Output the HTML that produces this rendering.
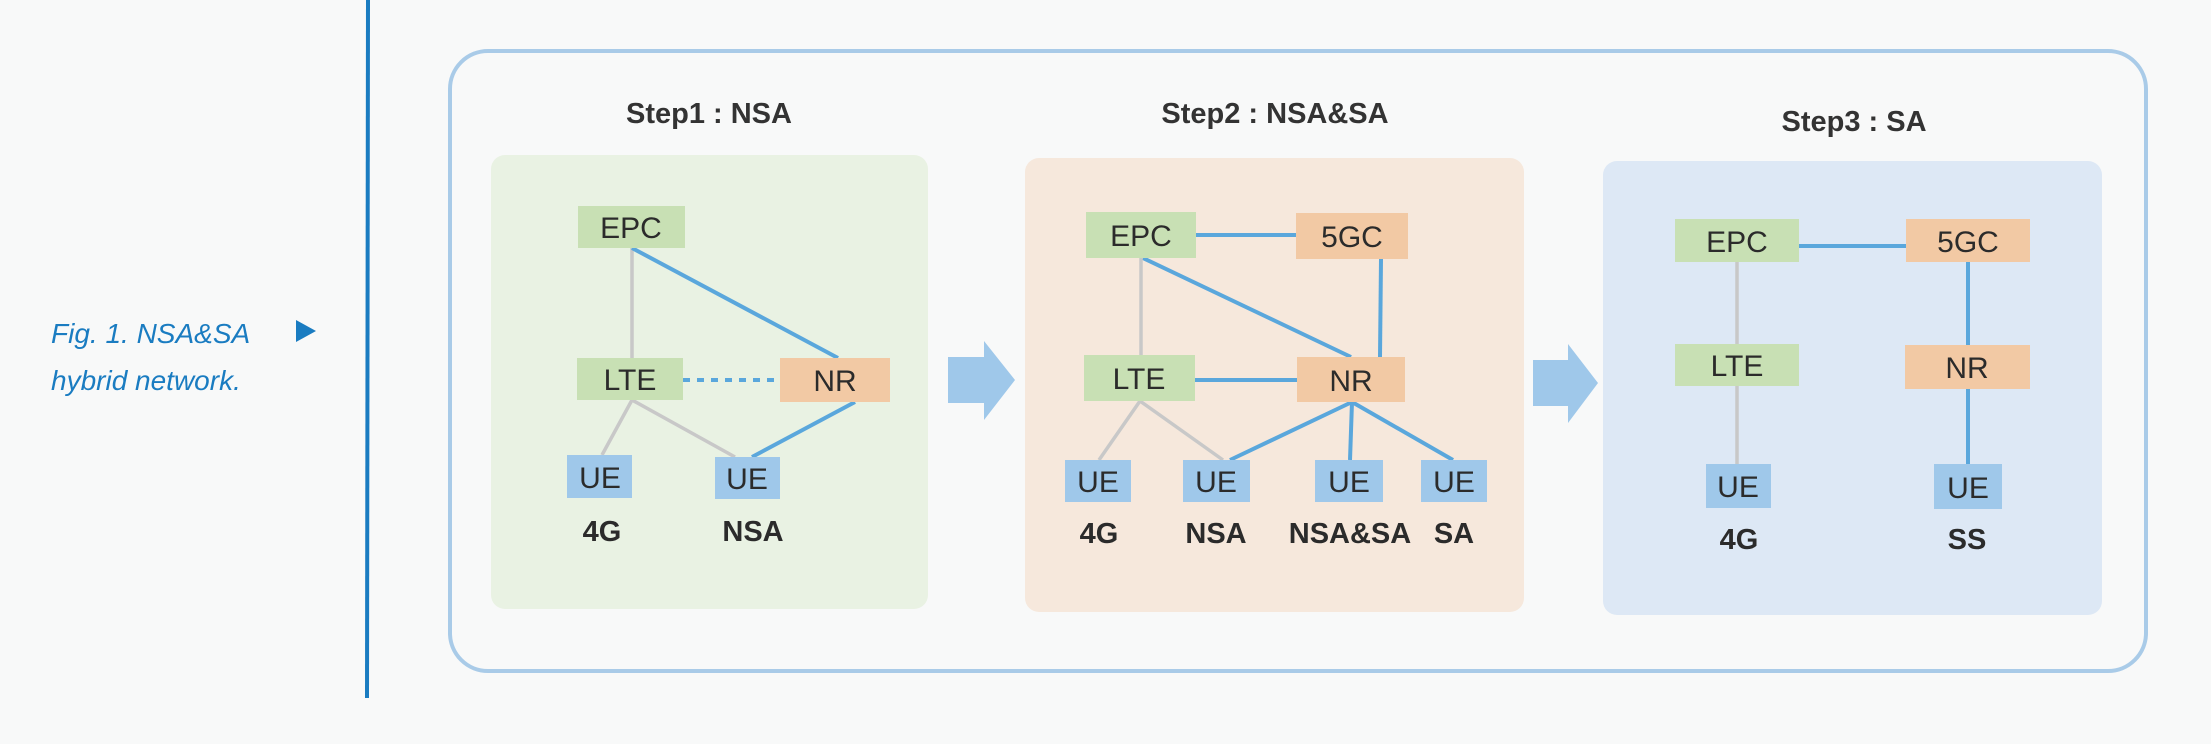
<!DOCTYPE html>
<html><head><meta charset="utf-8"><style>
html,body{margin:0;padding:0;background:#f8f9f9;}
svg{display:block}
.n{font-family:"Liberation Sans",sans-serif;font-size:30px;fill:#2b2b2b;text-anchor:middle;}
.l{font-family:"Liberation Sans",sans-serif;font-size:29px;font-weight:bold;fill:#2b2b2b;text-anchor:middle;}
.t{font-family:"Liberation Sans",sans-serif;font-size:29px;font-weight:bold;fill:#333;text-anchor:middle;}
.b{stroke:#5aa7dc;stroke-width:4;fill:none}
.g{stroke:#c8c8c8;stroke-width:3.5;fill:none}
</style></head><body>
<svg width="2211" height="744" viewBox="0 0 2211 744" xmlns="http://www.w3.org/2000/svg">
<rect width="2211" height="744" fill="#f8f9f9"/>
<line x1="368" y1="0" x2="367" y2="698" stroke="#1a7cc1" stroke-width="4"/>
<text x="51" y="343" font-family="Liberation Sans,sans-serif" font-style="italic" font-size="28" fill="#1a7cc1">Fig. 1. NSA&amp;SA</text>
<text x="51" y="390" font-family="Liberation Sans,sans-serif" font-style="italic" font-size="28" fill="#1a7cc1">hybrid network.</text>
<polygon points="296,320 316,331 296,342" fill="#1a7cc1"/>
<rect x="450" y="51" width="1696" height="620" rx="38" fill="none" stroke="#a9cbe8" stroke-width="4"/>
<text class="t" x="709" y="123">Step1 : NSA</text>
<text class="t" x="1275" y="123">Step2 : NSA&amp;SA</text>
<text class="t" x="1854" y="131">Step3 : SA</text>
<rect x="491" y="155" width="437" height="454" rx="14" fill="#e9f2e3"/>
<rect x="1025" y="158" width="499" height="454" rx="14" fill="#f6e8dc"/>
<rect x="1603" y="161" width="499" height="454" rx="14" fill="#dde8f5"/>
<polygon points="948,357 984,357 984,341 1015,380 984,420 984,403 948,403" fill="#9fc8ea"/>
<polygon points="1533,360 1568,360 1568,344 1598,383 1568,423 1568,406 1533,406" fill="#9fc8ea"/>
<!-- panel1 lines -->
<line class="g" x1="632" y1="248" x2="632" y2="358"/>
<line class="b" x1="632" y1="248" x2="838" y2="358"/>
<line class="b" x1="683" y1="380" x2="780" y2="380" stroke-dasharray="7,7"/>
<line class="g" x1="632" y1="400" x2="602" y2="455"/>
<line class="g" x1="632" y1="400" x2="735" y2="457"/>
<line class="b" x1="855" y1="402" x2="752" y2="457"/>
<rect x="578" y="206" width="107" height="42" fill="#c8e0b4"/><text class="n" x="631" y="238">EPC</text>
<rect x="577" y="358" width="106" height="42" fill="#c8e0b4"/><text class="n" x="630" y="390">LTE</text>
<rect x="780" y="358" width="110" height="44" fill="#f2c9a4"/><text class="n" x="835" y="391">NR</text>
<rect x="567" y="455" width="65" height="43" fill="#9fc8ea"/><text class="n" x="600" y="488">UE</text>
<rect x="715" y="457" width="65" height="42" fill="#9fc8ea"/><text class="n" x="747" y="489">UE</text>
<text class="l" x="602" y="541">4G</text><text class="l" x="753" y="541">NSA</text>
<!-- panel2 lines -->
<line class="b" x1="1196" y1="235" x2="1296" y2="235"/>
<line class="b" x1="1381" y1="259" x2="1380" y2="357"/>
<line class="b" x1="1143" y1="258" x2="1351" y2="357"/>
<line class="g" x1="1141" y1="258" x2="1141" y2="355"/>
<line class="b" x1="1195" y1="380" x2="1297" y2="380"/>
<line class="g" x1="1140" y1="401" x2="1099" y2="460"/>
<line class="g" x1="1140" y1="401" x2="1223" y2="460"/>
<line class="b" x1="1352" y1="402" x2="1230" y2="460"/>
<line class="b" x1="1352" y1="402" x2="1350" y2="460"/>
<line class="b" x1="1352" y1="402" x2="1453" y2="460"/>
<rect x="1086" y="212" width="110" height="46" fill="#c8e0b4"/><text class="n" x="1141" y="246">EPC</text>
<rect x="1296" y="213" width="112" height="46" fill="#f2c9a4"/><text class="n" x="1352" y="247">5GC</text>
<rect x="1084" y="355" width="111" height="46" fill="#c8e0b4"/><text class="n" x="1139" y="389">LTE</text>
<rect x="1297" y="357" width="108" height="45" fill="#f2c9a4"/><text class="n" x="1351" y="391">NR</text>
<rect x="1065" y="460" width="66" height="42" fill="#9fc8ea"/><text class="n" x="1098" y="492">UE</text>
<rect x="1183" y="460" width="67" height="42" fill="#9fc8ea"/><text class="n" x="1216" y="492">UE</text>
<rect x="1315" y="460" width="68" height="42" fill="#9fc8ea"/><text class="n" x="1349" y="492">UE</text>
<rect x="1421" y="460" width="66" height="42" fill="#9fc8ea"/><text class="n" x="1454" y="492">UE</text>
<text class="l" x="1099" y="543">4G</text><text class="l" x="1216" y="543">NSA</text><text class="l" x="1350" y="543">NSA&amp;SA</text><text class="l" x="1454" y="543">SA</text>
<!-- panel3 lines -->
<line class="b" x1="1799" y1="246" x2="1906" y2="246"/>
<line class="g" x1="1737" y1="262" x2="1737" y2="464"/>
<line class="b" x1="1968" y1="262" x2="1968" y2="464"/>
<rect x="1675" y="219" width="124" height="43" fill="#c8e0b4"/><text class="n" x="1737" y="252">EPC</text>
<rect x="1906" y="219" width="124" height="43" fill="#f2c9a4"/><text class="n" x="1968" y="252">5GC</text>
<rect x="1675" y="344" width="124" height="42" fill="#c8e0b4"/><text class="n" x="1737" y="376">LTE</text>
<rect x="1905" y="345" width="125" height="44" fill="#f2c9a4"/><text class="n" x="1967" y="378">NR</text>
<rect x="1706" y="464" width="65" height="44" fill="#9fc8ea"/><text class="n" x="1738" y="497">UE</text>
<rect x="1934" y="464" width="68" height="45" fill="#9fc8ea"/><text class="n" x="1968" y="498">UE</text>
<text class="l" x="1739" y="549">4G</text><text class="l" x="1967" y="549">SS</text>
</svg>
</body></html>
